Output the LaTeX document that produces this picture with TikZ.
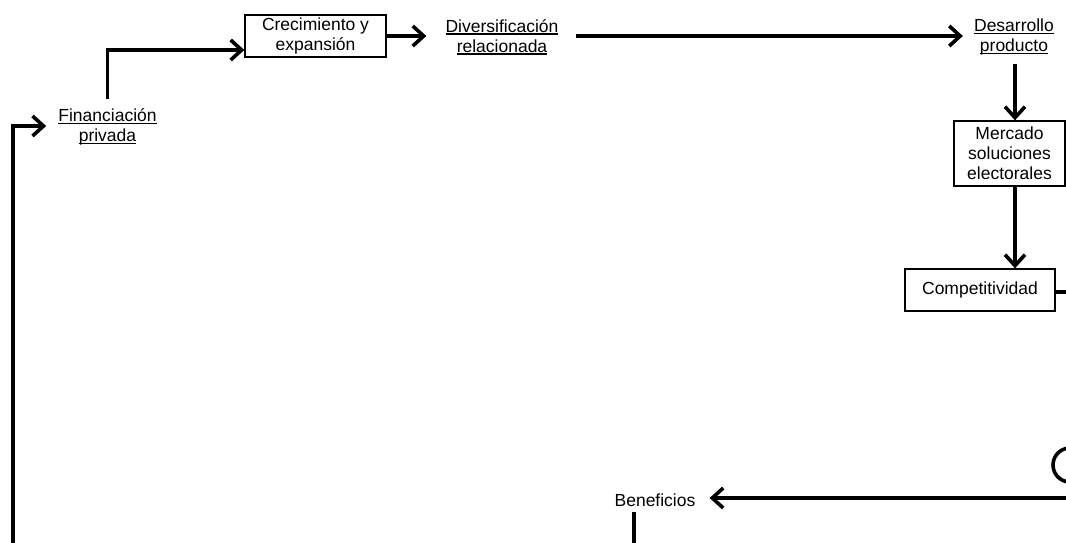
\documentclass[tikz,border=0pt]{standalone}
\usepackage{fontspec}
\setmainfont{Liberation Sans}
\usetikzlibrary{arrows.meta}
\newcommand\diagfont{\fontsize{17.5}{20}\selectfont}
% underline with a fixed depth so every line gets the same rule position
\newcommand\ulword[1]{\setbox0\hbox{#1}\rlap{\rule[-2.4pt]{\wd0}{1.2pt}}\box0}
\begin{document}
\begin{tikzpicture}[x=1pt,y=-1pt,
  flow/.style={line width=3.6pt,-{Straight Barb[length=11pt,width=20pt]}},
  plain/.style={line width=3.6pt},
  box/.style={draw,line width=1.3pt,inner sep=0pt,align=center,font=\diagfont},
  lbl/.style={inner sep=0pt,align=center,font=\diagfont}]
\useasboundingbox (0,0) rectangle (1066,542);
\clip (0,0) rectangle (1066,542);

% nodes
\node[lbl] (fin) at (107.5,127) {\ulword{Financiación}\\\ulword{privada}};
\node[box,minimum width=141pt,minimum height=42pt] (crec) at (315.5,36) {Crecimiento y\\expansión};
\node[lbl] (div) at (502,37) {\ulword{Diversificación}\\\ulword{relacionada}};
\node[lbl] (des) at (1014,37) {\ulword{Desarrollo}\\\ulword{producto}};
\node[box,minimum width=111pt,minimum height=65pt] (mer) at (1009.5,153.5) {Mercado\\soluciones\\electorales};
\node[box,minimum width=150pt,minimum height=42pt] (comp) at (980,290) {Competitividad};
\node[lbl] (ben) at (655,500) {Beneficios};
\node[draw,circle,line width=3.6pt,minimum size=34pt,inner sep=0pt] (cut) at (1070,465) {};

% free ends at the border
\coordinate (lb) at (13,550);
\coordinate (rt) at (1075,498);

% connectors
\draw[flow] (lb) |- ([xshift=-12pt,yshift=1pt]fin.west);
\draw[flow] ([yshift=10pt]fin.north) |- ([yshift=-14pt]crec.west);
\draw[flow,shorten >=19pt] (crec.east) -- (crec.east -| div.west);
\draw[flow,shorten <=17pt,shorten >=11pt] ([yshift=1pt]div.east) -- ([yshift=1pt]div.east -| des.west);
\draw[flow,shorten <=9pt] ([xshift=1pt]des.south) -- ([xshift=1pt]des.south |- mer.north);
\draw[flow] (mer.south -| des.south) ++(1,0) coordinate (ms) (ms) -- (ms |- comp.north);
\draw[plain] ([yshift=-2pt]comp.east) -- ++(20,0);
\draw[flow,shorten >=14pt] (rt) -- (rt -| ben.east);
\draw[plain,shorten <=5pt] ([xshift=-21pt]ben.south) -- ++(0,45);
\end{tikzpicture}
\end{document}
